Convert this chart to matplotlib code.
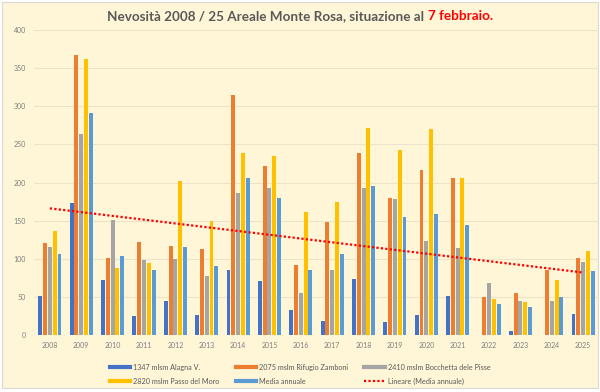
import numpy as np
import matplotlib
matplotlib.use("Agg")
import matplotlib.pyplot as plt
from matplotlib.lines import Line2D
from matplotlib.patches import Rectangle

plt.rcParams['font.family'] = ['Lato', 'DejaVu Sans']

years = [str(y) for y in range(2008, 2026)]
alagna = [51.5, 173, 73, 25, 44.5, 26, 85, 71, 33, 19, 74, 18, 26, 51, 0, 6, 0, 28]
zamboni = [121, 367, 101, 122, 117, 113, 314, 221, 92, 148, 239, 180, 216, 206.5, 50, 55, 85, 101]
bocchetta = [116, 263, 151, 98, 100, 77, 186.5, 193, 55, 85, 193, 178, 123, 114, 68.5, 45, 45, 96]
moro = [136, 362, 88, 95, 202, 149, 239, 234.5, 161, 174, 272, 242, 270, 206.5, 48, 44, 72.5, 111]
media = [106, 291, 103.5, 85, 116, 91, 206, 179.5, 85.6, 106, 195, 154.6, 159, 144, 41.5, 37.5, 50, 84]

names = ['1347 mlsm Alagna V.', '2075 mslm Rifugio Zamboni', '2410 mslm Bocchetta dele Pisse',
         '2820 mslm Passo del Moro', 'Media annuale']
colors = ['#4472C4', '#ED7D31', '#A5A5A5', '#FFC000', '#5B9BD5']
series = [alagna, zamboni, bocchetta, moro, media]

bg = '#FFF5D7'
fig = plt.figure(figsize=(6, 3.92), dpi=100, facecolor='white')
fig.patches.append(Rectangle((0.004, 0.01), 0.992, 0.985, transform=fig.transFigure,
                             facecolor=bg, edgecolor='#D9D9D9', lw=0.8, zorder=-10))
ax = fig.add_axes([0.057, 0.1446, 0.941, 0.7796])
ax.set_facecolor(bg)
ax.patch.set_alpha(0)

x = np.arange(len(years))
slot = 0.153
w = 0.125
for i, (vals, c) in enumerate(zip(series, colors)):
    ax.bar(x + (i - 2) * slot, vals, width=w, color=c, label=names[i], zorder=2)

# linear trend on the annual mean
k, q = np.polyfit(x, media, 1)
trend, = ax.plot(x, k * x + q, color='#FF0000', ls=(0, (1, 1)), lw=1.6, zorder=3,
                 label='Lineare (Media annuale)')

ax.set_xlim(-0.5, len(years) - 0.5)
ax.set_ylim(0, 400)
ax.set_yticks(range(0, 401, 50))
ax.set_xticks(x)
ax.set_xticklabels(years)
ax.tick_params(axis='both', length=0, labelsize=5, labelcolor='#7F7F7F')
ax.tick_params(axis='y', pad=6)
ax.tick_params(axis='x', pad=5)
ax.grid(axis='y', color='#EDE3CB', lw=0.8, zorder=0)
for s in ax.spines.values():
    s.set_visible(False)

h = [Line2D([], [], color=c, lw=3) for c in colors]
handles = [h[0], h[3], h[1], h[4], h[2], trend]
labels = [names[0], names[3], names[1], names[4], names[2], 'Lineare (Media annuale)']
leg = fig.legend(handles, labels, ncol=3, loc='center', bbox_to_anchor=(0.5, 0.045),
                 frameon=False, fontsize=5.2, labelcolor='#595959', handlelength=2.8,
                 handletextpad=0.4, columnspacing=2.3, labelspacing=1.0)

t1 = fig.text(0.2, 0.958, 'Nevosità 2008 / 25 Areale Monte Rosa, situazione al ',
              fontsize=9.7, fontweight='bold', color='#595959', va='center')
t2 = fig.text(0.2, 0.958, '7 febbraio.', fontsize=9.7, fontweight='bold',
              color='#FF0000', va='center')
r = fig.canvas.get_renderer()
b1 = t1.get_window_extent(r)
b2 = t2.get_window_extent(r)
total = b1.width + b2.width
x0 = (fig.bbox.width - total) / 2
t1.set_x(x0 / fig.bbox.width)
t2.set_x((x0 + b1.width) / fig.bbox.width)

fig.savefig('out.png', dpi=100, facecolor='white')
